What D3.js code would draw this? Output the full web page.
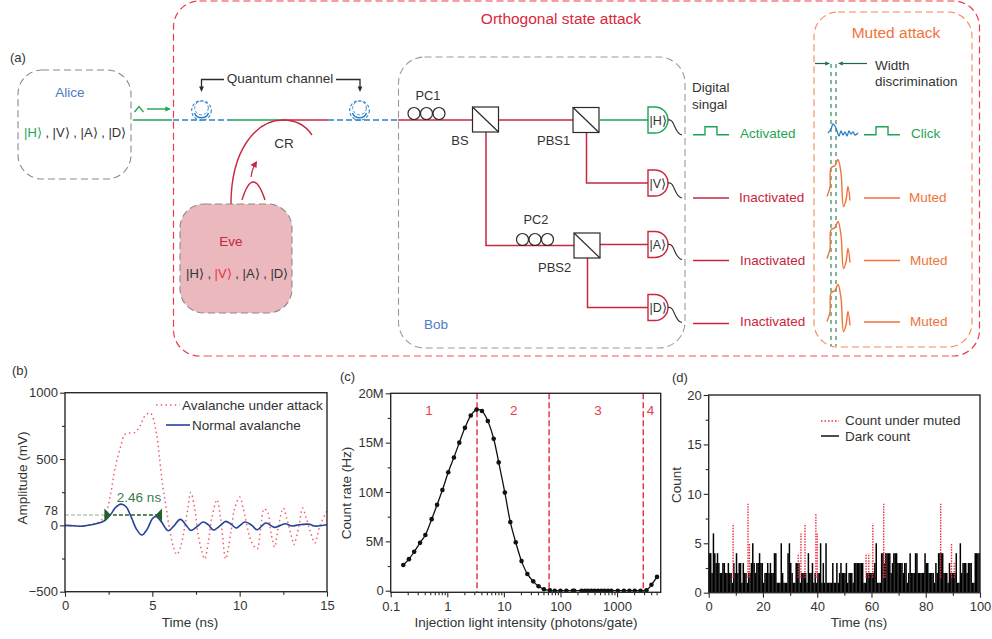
<!DOCTYPE html>
<html>
<head>
  <meta http-equiv="Content-Type" content="text/html; charset=UTF-8">
  <script src="https://d3js.org/d3.v7.min.js"></script>
  <style>
    body { margin:0;background:#fff; }
    svg { display:block; }
    text { font-family:"Liberation Sans",Arial,sans-serif;fill:#333; }
  </style>
</head>
<body>
<svg width="992" height="639"></svg>
<script>
// panel b: avalanche traces
var normalTime = [0,0.5,1,1.5,2,2.3,2.6,2.9,3.2,3.5,3.8,4.1,4.4,4.7,5,5.2,5.5,5.9,6.2,6.6,7,7.2,7.6,7.9,8.2,8.5,8.9,9.2,9.5,9.8,10.3,10.7,11,11.5,12,12.6,13,13.4,14,14.3,15];
var normalAmp = [0,-3,-6,5,20,38,80,135,160,140,60,-30,-73,-30,50,68,30,-40,-10,45,-10,-38,-5,25,5,-35,0,30,10,-20,25,0,-33,18,-15,12,-5,5,8,-5,5];
var attackTime = [0,0.5,1,1.5,2,2.31,2.6,2.9,3.2,3.4,3.6,4,4.3,4.6,4.9,5.2,5.4,5.6,5.8,6,6.2,6.4,6.6,6.8,7,7.2,7.4,7.6,7.8,8,8.2,8.4,8.7,8.9,9,9.2,9.5,9.7,10,10.2,10.5,10.7,11,11.2,11.4,11.6,11.8,12,12.2,12.5,12.7,13,13.1,13.4,13.6,13.8,14.1,14.3,14.6,15];
var attackAmp = [0,-3,-6,5,30,78,230,450,600,680,695,700,750,830,845,720,520,293,130,-40,-158,-220,-170,-50,100,248,150,-50,-180,-253,-130,50,193,60,-50,-253,-50,120,213,130,-50,-130,-178,-20,125,100,-60,-163,-20,130,50,-100,-145,0,130,60,-70,-133,0,110];

// panel c: count rate vs injected light
var intensity = [0.167,0.21,0.26,0.33,0.41,0.53,0.66,0.82,1.04,1.31,1.63,2.05,2.6,3.3,4.1,5.2,6.6,8.1,10.4,13,16.2,20.5,26,33,41,51,65,79,100,127,166,175,235,270,305,350,400,460,525,600,690,790,1030,1320,1650,2050,2600,3300,4050,5080];
var countRate = [2.6,3.2,3.95,4.85,5.65,7.25,8.7,10.2,12,13.5,15,16.5,17.75,18.35,18.2,17.2,15.4,13,9.95,6.95,4.9,3,1.7,0.95,0.45,0.15,0.03,0,0,0,0,0,0,0,0,0,0,0,0,0,0,0,0,0,0,0,0,0.05,0.6,1.4];
var regionEdges = [3.35,63,2900];
var regionLabels = ["1","2","3","4"];
var regionCenters = [0.475,15,460,3900];

// panel d: counts, one value per 0.5 ns
var darkCount = [
  4,4,2,6,4,3,4,3,2,2, 3,3,2,2,3,2,2,1,3,2, 4,2,3,3,1,3,2,2,1,2, 2,3,5,3,2,3,3,4,3,3,
  1,2,2,3,2,3,2,2,4,4, 1,1,1,5,2,1,1,1,4,5, 3,2,1,1,3,3,3,1,2,2, 2,2,1,4,2,2,3,1,2,1,
  2,2,5,1,3,1,5,1,1,1, 1,3,1,1,3,1,2,3,2,2, 2,3,1,2,2,2,1,3,3,3, 3,3,3,3,1,1,2,2,2,2,
  2,2,3,5,1,1,1,4,4,3, 4,4,4,4,2,3,4,4,4,3, 3,3,3,2,3,3,1,2,4,2, 2,2,4,4,2,2,2,2,2,4,
  3,3,2,2,2,2,1,3,2,4, 4,4,4,2,2,2,1,3,2,2, 2,2,4,1,1,5,2,3,3,3, 2,3,3,3,1,1,4,4,4,4];
var mutedTime = [9,14.5,15,33,34,35.5,39.5,40,58,59,60.5,64.5,65,85.5,89.5,90.5];
var mutedCount = [7,9,5,4,6,7,8,6,4,4,7,9,4,9,5,3];

var svg = d3.select("svg");
var red = "#c8273c", bright = "#e8333f", green = "#1fa455", orange = "#f0733a", blue = "#4d7cc4", ink = "#2a2a2a", gray = "#8a8a8a";
var tickSize = 13;

function label(x, y, s, opts) {
  opts = opts || {};
  return svg.append("text").attr("x", x).attr("y", y).text(s)
    .attr("font-size", opts.size || 13.5)
    .attr("text-anchor", opts.anchor || "start")
    .style("fill", opts.color || "#333");
}
function seg(d, color, w, dash) {
  return svg.append("path").attr("d", d).attr("fill", "none")
    .attr("stroke", color).attr("stroke-width", w || 1.4)
    .attr("stroke-dasharray", dash || null);
}
function box(x, y, w, h, r, color, fill, dash, sw) {
  return svg.append("rect").attr("x", x).attr("y", y).attr("width", w).attr("height", h).attr("rx", r)
    .attr("fill", fill || "none").attr("stroke", color).attr("stroke-width", sw || 1.1)
    .attr("stroke-dasharray", dash || "7 4");
}
function arrowHead(x, y, dir, color, s) {
  s = s || 5;
  var pts = {
    r: [[x,y],[x-s*1.6,y-s*0.7],[x-s*1.6,y+s*0.7]],
    l: [[x,y],[x+s*1.6,y-s*0.7],[x+s*1.6,y+s*0.7]],
    d: [[x,y],[x-s*0.7,y-s*1.6],[x+s*0.7,y-s*1.6]]
  }[dir];
  svg.append("path").attr("d", d3.line()(pts) + "Z").attr("fill", color);
}
function tri(pts, color) {
  svg.append("path").attr("d", d3.line()(pts) + "Z").attr("fill", color);
}
function states(x, y, first, firstColor) {
  var t = svg.append("text").attr("x", x).attr("y", y).attr("font-size", 13);
  var parts = ["|H\u27E9", " , ", "|V\u27E9", " , ", "|A\u27E9", " , ", "|D\u27E9"];
  parts.forEach(function(p, i) {
    t.append("tspan").text(p).style("white-space", "pre")
      .style("fill", i == first ? firstColor : "#333");
  });
}

// ---- panel a: schematic ----
label(10, 62, "(a)", {size: 13});
box(173.5, 1, 806, 355, 26, "#ef3b4a", "none", "7 4", 1.2);
seg("M205,356H950", "#fff", 2);
seg("M205,356H950", "#f98a92", 1.3, "7 4");
box(18, 70, 113, 109, 24, gray);
box(398.5, 57, 286.5, 291, 26, "#9a9a9a");
box(180, 204, 112, 109, 24, gray, "#eab8bd");
box(814, 12, 158, 335, 24, "#f28a58");

label(561, 24, "Orthogonal state attack", {size: 15.5, anchor: "middle", color: "#d8283c"});
label(896, 38, "Muted attack", {size: 15.5, anchor: "middle", color: orange});
label(70, 97, "Alice", {anchor: "middle", color: blue});
label(231, 246, "Eve", {anchor: "middle", color: red});
label(424, 329, "Bob", {color: blue});
states(24, 137, 0, green);
states(186, 278, 2, "#e8333f");

// channel
seg("M133,120H172", green, 1.6);
seg("M173,120H229", "#2f80c8", 1.5, "6 3");
seg("M229,120H283", green, 1.6);
seg("M283,120H328", red, 1.6);
seg("M328,120H398", "#2f80c8", 1.5, "6 3");
seg("M398,120H472", red, 1.6);
seg("M134.5,112L139,106.5L143.5,112", green, 1.3);
seg("M147,109H166", green, 1.4);
arrowHead(171, 109, "r", green, 3.5);
[201.5, 359.5].forEach(function(cx) {
  svg.append("circle").attr("cx", cx).attr("cy", 110.5).attr("r", 9.8).attr("fill", "none")
    .attr("stroke", "#2f80c8").attr("stroke-width", 1.1).attr("stroke-dasharray", "3 2");
  seg("M" + (cx-7) + ",113A7.5,7.5 0 0 0 " + (cx+7) + ",113", "#2f80c8", 1.6);
  svg.append("circle").attr("cx", cx).attr("cy", 108).attr("r", 6.8).attr("fill", "none")
    .attr("stroke", "#2f80c8").attr("stroke-width", 0.9).attr("stroke-dasharray", "3 2");
});
label(280, 83, "Quantum channel", {anchor: "middle"});
seg("M224,79.5H201.5V88", ink, 1.3);
arrowHead(201.5, 92, "d", ink, 3.4);
seg("M336,79.5H360V88", ink, 1.3);
arrowHead(360, 92, "d", ink, 3.4);
seg("M231,204C231,150 256,120 283,120C296,120 306,126 312,135", red, 1.4);
label(284, 148, "CR", {anchor: "middle"});
seg("M242,200Q253,164 265,200", red, 1.4);
seg("M251,177Q252,170 254,166", red, 1.2);
tri([[257,161],[250.5,165],[256.5,168]], red);

// bob optics
seg("M499,120H573", red, 1.5);
seg("M600,120H648", green, 1.5);
seg("M486,132V245.5H574", red, 1.5);
seg("M586.5,132V183H648", red, 1.5);
seg("M600,244.5H648", red, 1.5);
seg("M587.5,257V307.5H648", red, 1.5);

[[414,113.5],[426.5,113.5],[439,113.5],[522.5,239.5],[535,239.5],[547.5,239.5]].forEach(function(c) {
  svg.append("circle").attr("cx", c[0]).attr("cy", c[1]).attr("r", 6).attr("fill", "none")
    .attr("stroke", ink).attr("stroke-width", 1.2);
});
[[472.5,107],[573,107.5],[574,233]].forEach(function(c) {
  svg.append("rect").attr("x", c[0]).attr("y", c[1]).attr("width", 26).attr("height", 25)
    .attr("fill", "#fff").attr("stroke", ink).attr("stroke-width", 1.2);
  seg("M" + c[0] + "," + c[1] + "L" + (c[0]+26) + "," + (c[1]+25), ink, 1.2);
});
label(428, 100, "PC1", {size: 12.8, anchor: "middle"});
label(536, 224, "PC2", {size: 12.8, anchor: "middle"});
label(460, 145, "BS", {size: 13, anchor: "middle"});
label(537, 145, "PBS1", {size: 13});
label(538, 272, "PBS2", {size: 13});

var detectors = [[120,"|H\u27E9",green],[183,"|V\u27E9",red],[244.5,"|A\u27E9",red],[307.5,"|D\u27E9",red]];
detectors.forEach(function(d) {
  var y = d[0];
  svg.append("path").attr("d", "M648," + (y-13) + "H655A13,13 0 0 1 655," + (y+13) + "H648Z")
    .attr("fill", "#fff").attr("stroke", d[2]).attr("stroke-width", 1.4);
  label(649.5, y+4.5, d[1], {size: 12.5});
  seg("M668," + y + "C675," + (y-2) + " 674," + (y+14) + " 682," + (y+15), ink, 1.1);
});

// signals
label(692, 92, "Digital");
label(692, 109, "singal");
seg("M693,134.7H705V126.7H717V134.7H729", green, 1.4);
seg("M864,134.7H876V126.7H888V134.7H900", green, 1.4);
label(740, 138, "Activated", {color: green});
label(911, 138, "Click", {color: green});
[[198,739],[260.5,740],[323.5,740]].forEach(function(p) {
  seg("M693," + p[0] + "H729", red, 1.4);
  label(p[1], (p[0] == 323.5 ? 321 : p[0]-1) + 5, "Inactivated", {color: red});
});
[[198,909],[260.5,910],[322,910]].forEach(function(p) {
  seg("M864," + p[0] + "H900", orange, 1.4);
  label(p[1], p[0]+4, "Muted", {color: orange});
});

// width discrimination
var dkGreen = "#1a6b42";
seg("M831,64V346", "#2b8a5c", 1.2, "4 4");
seg("M836,64V346", "#2b8a5c", 1.2, "4 4");
seg("M815,63.5H825", dkGreen, 1.2);
arrowHead(830, 63.5, "r", dkGreen, 3);
seg("M867,63.5H843", dkGreen, 1.2);
arrowHead(838, 63.5, "l", dkGreen, 3);
label(875, 70, "Width");
label(875, 86, "discrimination");
var wiggle = [[828,133],[831,129],[833,124],[835,126],[837,131],[839,136],[841,131],[843,135],[845,132],[847,136],[849,131],[851,134],[853,132],[855,135],[858,133]];
seg(d3.line().curve(d3.curveCatmullRom)(wiggle), "#2f80c8", 1.3);
var spike = [[827,196.5],[830,187],[831,168],[835,165.5],[838,159.5],[841,173],[843.5,206.5],[846,200],[848,186.5],[850,200.5]];
[0,62,125].forEach(function(dy) {
  seg(d3.line().curve(d3.curveCatmullRom)(spike.map(function(p) { return [p[0], p[1]+dy]; })), orange, 1.4);
});

// ---- shared frame ----
function frame(x, y, opts) {
  var x0 = x.range()[0], x1 = x.range()[1], y0 = y.range()[0], y1 = y.range()[1];
  var bottom = d3.axisBottom(x).tickSizeOuter(0).tickSize(5).tickPadding(4);
  var left = d3.axisLeft(y).tickSizeOuter(0).tickSize(5).tickPadding(2);
  if (opts.xTicks) bottom.tickValues(opts.xTicks);
  if (opts.xFormat) bottom.tickFormat(opts.xFormat);
  left.tickValues(opts.yTicks).tickFormat(opts.yFormat || d3.format("d"));
  var gx = svg.append("g").attr("transform", "translate(0," + y0 + ")").call(bottom);
  var gy = svg.append("g").attr("transform", "translate(" + x0 + ",0)").call(left);
  svg.append("g").attr("transform", "translate(0," + y0 + ")")
    .call(d3.axisBottom(x).tickValues(opts.xMinor).tickSize(3).tickFormat(""));
  svg.append("g").attr("transform", "translate(" + x0 + ",0)")
    .call(d3.axisLeft(y).tickValues(opts.yMinor).tickSize(3).tickFormat(""));
  svg.selectAll("g .domain").remove();
  svg.selectAll("g .tick line").attr("stroke", ink).attr("stroke-width", 1.1);
  [gx, gy].forEach(function(g) {
    g.selectAll("text").attr("font-size", tickSize).style("fill", "#333")
      .style("font-family", '"Liberation Sans",Arial,sans-serif');
  });
  svg.append("rect").attr("x", x0).attr("y", y1).attr("width", x1-x0).attr("height", y0-y1)
    .attr("fill", "none").attr("stroke", ink).attr("stroke-width", 1.4);
}

// ---- panel b ----
label(12, 375, "(b)", {size: 13});
var xb = d3.scaleLinear().domain([0,15]).range([65,327]);
var yb = d3.scaleLinear().domain([-500,1000]).range([591.7,392.7]);
seg(d3.line()([[xb(0),yb(78)],[xb(2.31),yb(78)]]), "#9bb0a0", 1, "4 2");
var lineB = d3.line().x(function(d) { return xb(d[0]); }).y(function(d) { return yb(d[1]); }).curve(d3.curveCatmullRom);
seg(lineB(d3.zip(attackTime, attackAmp)), "#f0606b", 1.5, "1.5 3.2");
seg(lineB(d3.zip(normalTime, normalAmp)), "#24449c", 1.6);
seg(d3.line()([[xb(2.4),yb(78)],[xb(5.4),yb(78)]]), "#23602f", 1.3, "4 2");
tri([[xb(2.31)-1,yb(78)-6.5],[xb(2.31)-1,yb(78)+6.5],[xb(2.31)+5.5,yb(78)]], "#23602f");
tri([[xb(5.5)+1,yb(78)-6.5],[xb(5.5)+1,yb(78)+6.5],[xb(5.5)-5.5,yb(78)]], "#23602f");
label(139, 502, "2.46 ns", {anchor: "middle", color: "#3a7a4c"});
frame(xb, yb, {xTicks:[0,5,10,15], xMinor:[2.5,7.5,12.5], yTicks:[-500,0,500,1000], yMinor:[-250,250,750],
  yFormat: function(d) { return d < 0 ? "\u2212" + (-d) : d; }});
label(58, 514.5, "78", {size: 12.5, anchor: "end"});
seg("M156,405H180", "#f0606b", 1.5, "1.5 3.2");
label(182, 409.5, "Avalanche under attack");
seg("M166,425H190", "#24449c", 1.6);
label(192, 430, "Normal avalanche");
label(190, 627, "Time (ns)", {anchor: "middle"});
label(0, 0, "Amplitude (mV)", {anchor: "middle"}).attr("transform", "translate(27,478) rotate(-90)");

// ---- panel c ----
label(340, 381, "(c)", {size: 13});
var xc = d3.scaleLog().domain([0.1,5900]).range([390.7,660.7]);
var yc = d3.scaleLinear().domain([-0.16,20]).range([592.3,393.3]);
var minorLog = [];
[0.1,1,10,100,1000].forEach(function(e) {
  d3.range(2,10).forEach(function(m) { if (e*m < 5900) minorLog.push(e*m); });
});
regionEdges.forEach(function(e) {
  svg.append("line").attr("x1", xc(e)).attr("x2", xc(e)).attr("y1", yc(20)).attr("y2", yc(-0.16))
    .attr("stroke", "#e02e3e").attr("stroke-width", 1.4).attr("stroke-dasharray", "6 3");
});
seg(d3.line().x(function(d) { return xc(d[0]); }).y(function(d) { return yc(d[1]); }).curve(d3.curveCatmullRom)(d3.zip(intensity, countRate)), "#111", 1.3);
svg.selectAll("circle.rate").data(d3.zip(intensity, countRate)).enter().append("circle")
  .attr("class", "rate").attr("cx", function(d) { return xc(d[0]); }).attr("cy", function(d) { return yc(d[1]); })
  .attr("r", 2.3).attr("fill", "#111");
regionLabels.forEach(function(s, i) {
  label(xc(regionCenters[i]), 415, s, {anchor: "middle", color: "#e8404c"});
});
frame(xc, yc, {xTicks:[0.1,1,10,100,1000], xFormat: function(d) { return d; }, xMinor: minorLog,
  yTicks:[0,5,10,15,20], yMinor:[2.5,7.5,12.5,17.5], yFormat: function(d) { return d ? d + "M" : "0"; }});
label(526, 627, "Injection light intensity (photons/gate)", {anchor: "middle"});
label(0, 0, "Count rate (Hz)", {anchor: "middle"}).attr("transform", "translate(351,493) rotate(-90)");

// ---- panel d ----
label(672, 382, "(d)", {size: 13});
var xd = d3.scaleLinear().domain([0,100]).range([708.7,980]);
var yd = d3.scaleLinear().domain([0,20]).range([592.7,395]);
svg.selectAll("line.dark").data(darkCount).enter().append("line").attr("class", "dark")
  .attr("x1", function(d, i) { return xd(i*0.5+0.25); }).attr("x2", function(d, i) { return xd(i*0.5+0.25); })
  .attr("y1", yd(0)).attr("y2", function(d) { return yd(d); })
  .attr("stroke", "#000").attr("stroke-width", 1.5);
svg.selectAll("line.muted").data(mutedCount).enter().append("line").attr("class", "muted")
  .attr("x1", function(d, i) { return xd(mutedTime[i]); }).attr("x2", function(d, i) { return xd(mutedTime[i]); })
  .attr("y1", yd(1.5)).attr("y2", function(d) { return yd(d); })
  .attr("stroke", "#f0303e").attr("stroke-width", 1.4).attr("stroke-dasharray", "1.5 1.2");
frame(xd, yd, {xTicks:[0,20,40,60,80,100], xMinor:[10,30,50,70,90], yTicks:[0,5,10,15,20], yMinor:[2.5,7.5,12.5,17.5]});
seg("M821,421H839", "#f0303e", 1.4, "1.5 2");
label(845, 424.5, "Count under muted");
seg("M821,436H839", "#000", 1.4);
label(845, 440.5, "Dark count");
label(859, 627, "Time (ns)", {anchor: "middle"});
label(0, 0, "Count", {anchor: "middle"}).attr("transform", "translate(681,485) rotate(-90)");
</script>
</body></html>
